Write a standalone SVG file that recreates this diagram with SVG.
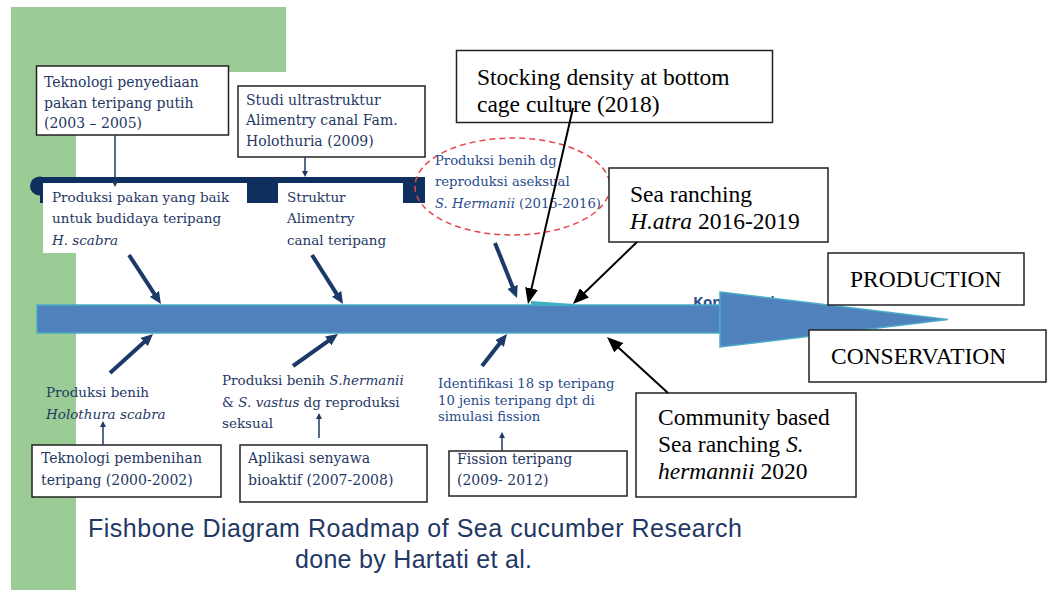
<svg xmlns="http://www.w3.org/2000/svg" width="1048" height="592" viewBox="0 0 1048 592">
<style>
.nv{font-family:"DejaVu Serif",serif;fill:#1f3864;font-size:13.5px}
.nvb{font-family:"DejaVu Serif",serif;fill:#1f3864;font-size:14px}
.lb{font-family:"DejaVu Serif",serif;fill:#2b4c8c;font-size:13.2px}
.tm{font-family:"Liberation Serif","Times New Roman",serif;fill:#000;font-size:23.5px}
.it{font-style:italic}
.box{fill:#fff;stroke:#222;stroke-width:1.5}
.thick{stroke:#1c3a68;stroke-width:4;fill:none}
.thin{stroke:#1f3864;stroke-width:1.5;fill:none}
.blk{stroke:#000;stroke-width:2;fill:none}
.ttl{font-family:"Liberation Sans",Arial,sans-serif;fill:#1f3864;font-size:25px}
</style>
<defs>
<marker id="hn" markerUnits="userSpaceOnUse" markerWidth="12" markerHeight="11" refX="2" refY="5.5" orient="auto"><path d="M0,0 L12,5.5 L0,11 z" fill="#1c3a68"/></marker>
<marker id="hb" markerUnits="userSpaceOnUse" markerWidth="16" markerHeight="13" refX="2" refY="6.5" orient="auto"><path d="M0,0 L16,6.5 L0,13 z" fill="#000"/></marker>
<marker id="ht" markerUnits="userSpaceOnUse" markerWidth="6" markerHeight="6" refX="1" refY="3" orient="auto"><path d="M0,0 L6,3 L0,6 z" fill="#1f3864"/></marker>
</defs>
<rect width="1048" height="592" fill="#fff"/>
<g id="background">
<rect x="11" y="7" width="275" height="65" fill="#9ccc96"/>
<rect x="11" y="72" width="65" height="518" fill="#9ccc96"/>
</g>
<g id="band">
<ellipse cx="40" cy="186" rx="10" ry="9.5" fill="#0f2f5f"/>
<rect x="40" y="177" width="385" height="26" fill="#0f2f5f"/>
</g>
<g id="band-box-1">
<rect x="43" y="183" width="204" height="70" fill="#fff"/>
<text class="nv" x="52" y="202">Produksi pakan yang baik</text>
<text class="nv" x="52" y="223">untuk budidaya teripang</text>
<text class="nv it" x="52" y="245">H. scabra</text>
</g>
<g id="band-box-2">
<rect x="278" y="183" width="125" height="70" fill="#fff"/>
<text class="nv" x="287" y="202">Struktur</text>
<text class="nv" x="287" y="223">Alimentry</text>
<text class="nv" x="287" y="245">canal teripang</text>
</g>
<g id="ellipse-node">
<ellipse cx="512.5" cy="186.5" rx="97.5" ry="48.5" fill="none" stroke="#e8454a" stroke-width="1.5" stroke-dasharray="6 4"/>
<text class="lb" x="435" y="165">Produksi benih dg</text>
<text class="lb" x="435" y="186">reproduksi aseksual</text>
<text class="lb" x="435" y="208"><tspan class="it">S. Hermanii</tspan> (2015-2016)</text>
</g>
<g id="top-box-1">
<rect class="box" x="36.5" y="66" width="192" height="69"/>
<text class="nvb" x="44" y="87">Teknologi penyediaan</text>
<text class="nvb" x="44" y="107.5">pakan teripang putih</text>
<text class="nvb" x="44" y="128">(2003 – 2005)</text>
</g>
<g id="top-box-2">
<rect class="box" x="238" y="86" width="187" height="71"/>
<text class="nvb" x="246" y="104.5">Studi ultrastruktur</text>
<text class="nvb" x="246" y="125">Alimentry canal Fam.</text>
<text class="nvb" x="246" y="145.5">Holothuria (2009)</text>
</g>
<g id="bottom-text-1">
<text class="nv" x="46" y="397">Produksi benih</text>
<text class="nv it" x="46" y="419">Holothura scabra</text>
</g>
<g id="bottom-box-1">
<rect class="box" x="32" y="445" width="189" height="52"/>
<text class="nvb" x="41" y="463">Teknologi pembenihan</text>
<text class="nvb" x="41" y="485">teripang (2000-2002)</text>
</g>
<g id="bottom-text-2">
<text class="nv" x="222" y="385">Produksi benih <tspan class="it">S.hermanii</tspan></text>
<text class="nv" x="222" y="407">&amp; <tspan class="it">S. vastus</tspan> dg reproduksi</text>
<text class="nv" x="222" y="428">seksual</text>
</g>
<g id="bottom-box-2">
<rect class="box" x="240" y="445" width="187" height="57"/>
<text class="nvb" x="248" y="463">Aplikasi senyawa</text>
<text class="nvb" x="248" y="485">bioaktif  (2007-2008)</text>
</g>
<g id="bottom-text-3">
<text class="lb" x="438" y="388">Identifikasi 18 sp teripang</text>
<text class="lb" x="438" y="405">10 jenis teripang dpt di</text>
<text class="lb" x="438" y="421">simulasi fission</text>
</g>
<g id="bottom-box-3">
<rect class="box" x="449" y="451" width="178" height="45"/>
<text class="nvb" x="457" y="464">Fission teripang</text>
<text class="nvb" x="457" y="485">(2009- 2012)</text>
</g>
<g id="spine">
<text x="693" y="307" font-family="'Open Sans',sans-serif" font-weight="bold" font-size="15" fill="#2e4d8a">Konservasi</text>
<rect x="37" y="305" width="683" height="28" fill="#4f81bd" stroke="#4bacc6" stroke-width="1.5"/>
<polygon points="531,301 574,304 574,306 531,306" fill="#3fb0c0"/>
<polygon points="720,292 948,319.5 720,347" fill="#4f81bd" stroke="#4bacc6" stroke-width="1.5"/>
<rect x="721" y="306" width="3" height="26" fill="#4f81bd"/>
</g>
<g id="connectors">
<line class="thin" x1="115" y1="135" x2="115" y2="182" marker-end="url(#ht)"/>
<line class="thin" x1="305" y1="157" x2="305" y2="172" marker-end="url(#ht)"/>
<line class="thin" x1="103" y1="445" x2="103" y2="426" marker-end="url(#ht)"/>
<line class="thin" x1="319" y1="438" x2="319" y2="418" marker-end="url(#ht)"/>
<line class="thin" x1="502" y1="451" x2="502" y2="437" marker-end="url(#ht)"/>
<line class="thick" x1="129" y1="255" x2="155.5" y2="295.6" marker-end="url(#hn)"/>
<line class="thick" x1="312" y1="255" x2="337.7" y2="295.6" marker-end="url(#hn)"/>
<line class="thick" x1="495" y1="243" x2="513.3" y2="288.7" marker-end="url(#hn)"/>
<line class="thick" x1="110" y1="373" x2="145.6" y2="340.7" marker-end="url(#hn)"/>
<line class="thick" x1="293" y1="366" x2="329.8" y2="339.8" marker-end="url(#hn)"/>
<line class="thick" x1="482" y1="366" x2="500.8" y2="341.9" marker-end="url(#hn)"/>
</g>
<g id="stocking">
<rect class="box" x="456.5" y="50.5" width="316" height="72"/>
<text class="tm" x="477" y="85">Stocking density at bottom</text>
<text class="tm" x="477" y="112">cage culture (2018)</text>
</g>
<g id="sea-ranching">
<rect class="box" x="609" y="168" width="219" height="74"/>
<text class="tm" x="630" y="202">Sea ranching</text>
<text class="tm" x="630" y="229"><tspan class="it">H.atra</tspan> 2016-2019</text>
</g>
<g id="production">
<rect class="box" x="828" y="253" width="196" height="52"/>
<text class="tm" x="850" y="287">PRODUCTION</text>
</g>
<g id="conservation">
<rect class="box" x="809" y="330" width="237" height="52"/>
<text class="tm" x="831" y="364">CONSERVATION</text>
</g>
<g id="community">
<rect class="box" x="636" y="393" width="220" height="104"/>
<text class="tm" x="658" y="425">Community based</text>
<text class="tm" x="658" y="452">Sea ranching <tspan class="it">S.</tspan></text>
<text class="tm" x="658" y="479"><tspan class="it">hermannii</tspan><tspan dx="6">2020</tspan></text>
</g>
<g id="black-arrows">
<line class="blk" x1="573" y1="108" x2="531.1" y2="290.4" marker-end="url(#hb)"/>
<line class="blk" x1="637" y1="242" x2="583" y2="294.2" marker-end="url(#hb)"/>
<line class="blk" x1="668" y1="393" x2="617.3" y2="346.5" marker-end="url(#hb)"/>
</g>
<g id="title">
<text class="ttl" x="88" y="537" textLength="654">Fishbone Diagram Roadmap of Sea cucumber Research</text>
<text class="ttl" x="295" y="568" textLength="237">done by Hartati et al.</text>
</g>
</svg>
